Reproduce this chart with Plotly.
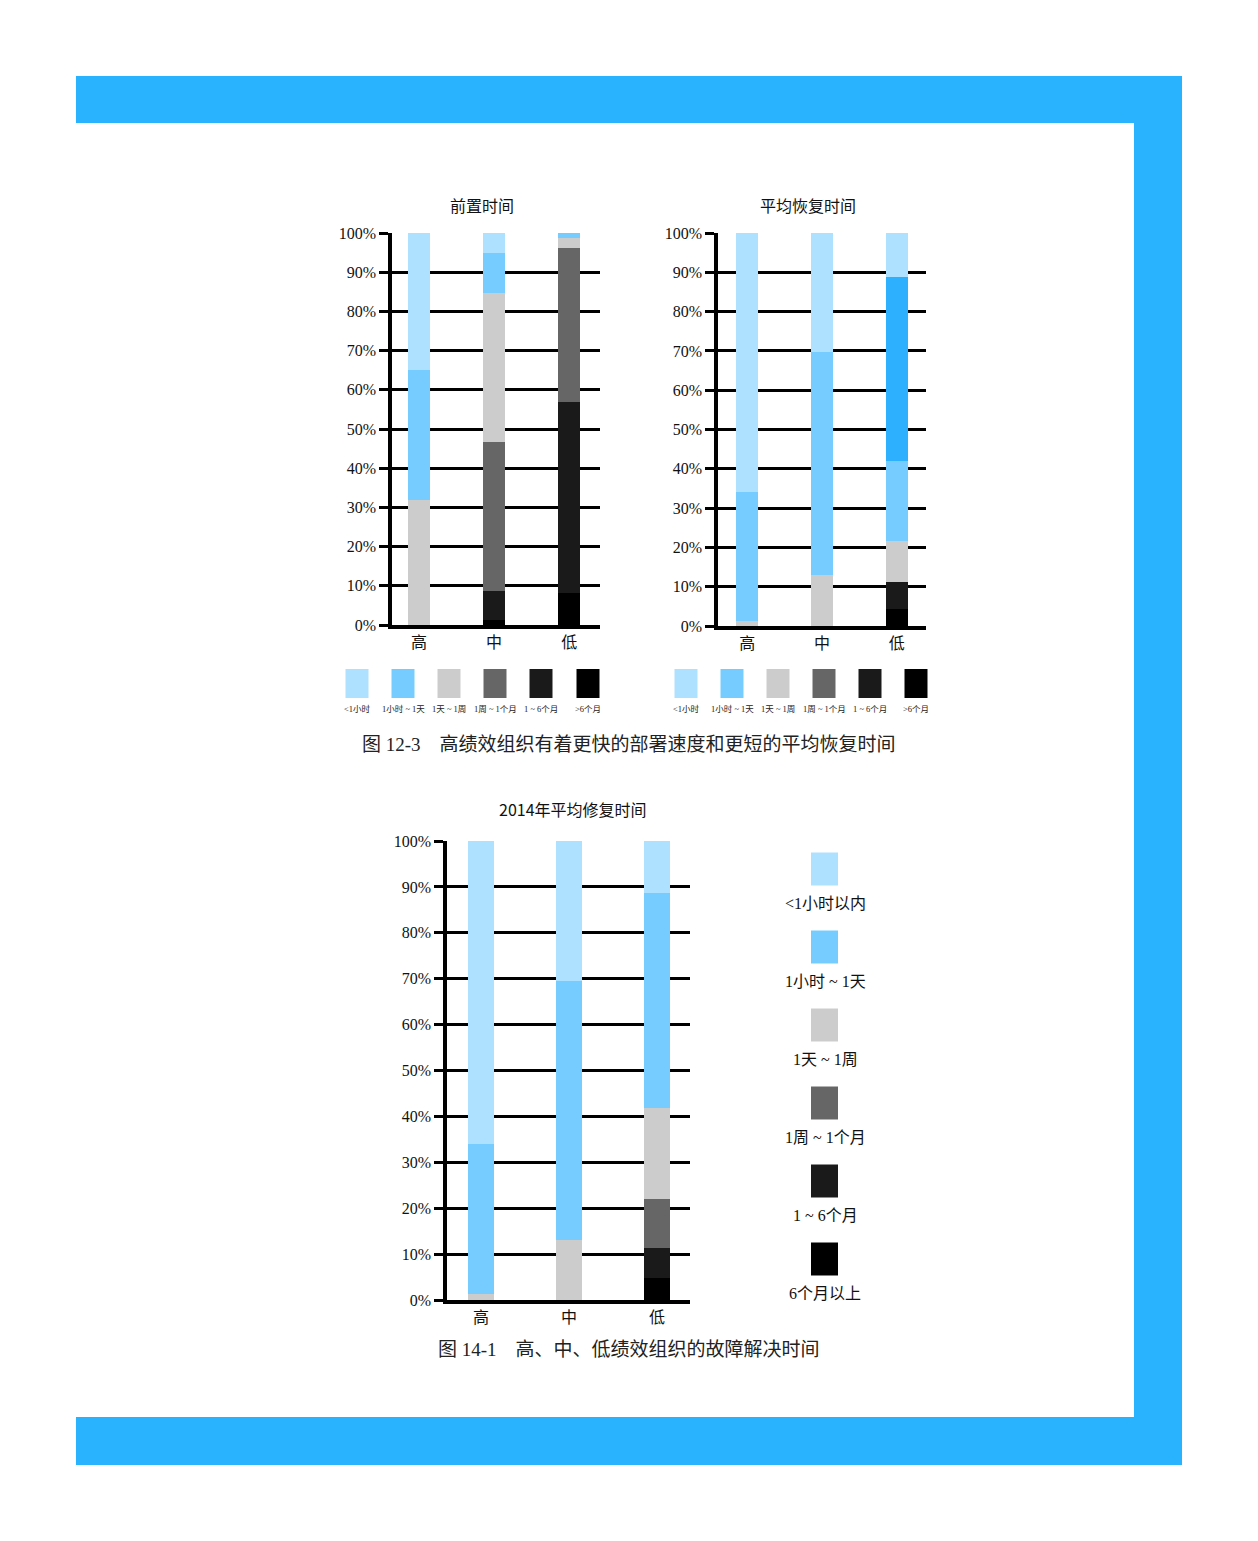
import plotly.graph_objects as go

# categorias e séries (de baixo para cima na pilha)
grupos = ["高", "中", "低"]
series = ["6个月以上", "1~6个月", "1周~1个月", "1天~1周", "1小时~1天", "<1小时以内"]

# 前置时间 (%)
lead_6m_plus = [0.0, 1.4, 8.1]
lead_1_6m = [0.0, 7.3, 48.8]
lead_1w_1m = [0.0, 37.9, 39.4]
lead_1d_1w = [32.0, 38.2, 2.3]
lead_1h_1d = [33.0, 10.0, 1.4]
lead_lt_1h = [35.0, 5.2, 0.0]

# 平均恢复时间 (%)
mttr_6m_plus = [0.0, 0.0, 4.3]
mttr_1_6m = [0.0, 0.0, 6.8]
mttr_1w_1m = [0.0, 0.0, 10.6]
mttr_1d_1w = [1.4, 13.0, 20.4]
mttr_1h_1d = [32.6, 56.6, 46.8]
mttr_lt_1h = [66.0, 30.4, 11.1]

# 2014年平均修复时间 (%)
rep_6m_plus = [0.0, 0.0, 4.9]
rep_1_6m = [0.0, 0.0, 6.4]
rep_1w_1m = [0.0, 0.0, 10.6]
rep_1d_1w = [1.3, 13.0, 20.0]
rep_1h_1d = [32.6, 56.5, 46.8]
rep_lt_1h = [66.1, 30.5, 11.3]

legenda_pequena = ["<1小时", "1小时 ~ 1天", "1天 ~ 1周", "1周 ~ 1个月", "1 ~ 6个月", ">6个月"]
legenda_grande = ["<1小时以内", "1小时 ~ 1天", "1天 ~ 1周", "1周 ~ 1个月", "1 ~ 6个月", "6个月以上"]

titulos = ["前置时间", "平均恢复时间", "2014年平均修复时间"]
legenda_fig1 = "图 12-3　高绩效组织有着更快的部署速度和更短的平均恢复时间"
legenda_fig2 = "图 14-1　高、中、低绩效组织的故障解决时间"

cores = ["#000000", "#1a1a1a", "#666666", "#cccccc", "#77ccff", "#aee0ff"]
azul_forte = "#2db1ff"
azul_moldura = "#29b3ff"

# a página tem 8px de margem no body: a figura fica menor e deslocada
OFF = 8
W, H = 1258 - 2 * OFF, 1541 - 2 * OFF - 6
SERIF = "Liberation Serif, Noto Sans CJK SC"
SANS = "Noto Sans CJK SC"


def px(x):
    return (x - OFF) / W


def py(y):
    return 1 - (y - OFF) / H


dados = [
    [lead_6m_plus, lead_1_6m, lead_1w_1m, lead_1d_1w, lead_1h_1d, lead_lt_1h],
    [mttr_6m_plus, mttr_1_6m, mttr_1w_1m, mttr_1d_1w, mttr_1h_1d, mttr_lt_1h],
    [rep_6m_plus, rep_1_6m, rep_1w_1m, rep_1d_1w, rep_1h_1d, rep_lt_1h],
]

# no gráfico "平均恢复时间" a coluna 低 aparece com as cores deslocadas
cores_mttr_baixo = ["#000000", "#1a1a1a", "#cccccc", "#77ccff", azul_forte, "#aee0ff"]

fig = go.Figure()

for k, grafico in enumerate(dados):
    sufixo = "" if k == 0 else str(k + 1)
    largura = 0.29 if k < 2 else 0.3
    for i, valores in enumerate(grafico):
        cor = [cores[i]] * 3
        if k == 1:
            cor[2] = cores_mttr_baixo[i]
        fig.add_trace(go.Bar(
            x=grupos, y=valores, name=series[i], width=largura,
            marker=dict(color=cor, line=dict(width=0)),
            xaxis="x" + sufixo, yaxis="y" + sufixo, showlegend=False,
        ))

# geometria dos três painéis (pixels da referência)
paineis = [
    dict(x0=392, x1=600, y0=625, y1=233, faixa=[-0.36, 2.41]),
    dict(x0=718, x1=926, y0=626, y1=233, faixa=[-0.39, 2.39]),
    dict(x0=447, x1=690, y0=1300, y1=841, faixa=[-0.386, 2.375]),
]

layout = dict(
    width=W, height=H, margin=dict(l=0, r=0, t=0, b=0, autoexpand=False),
    paper_bgcolor="white", plot_bgcolor="rgba(0,0,0,0)",
    barmode="stack", bargap=0,
)

for k, p in enumerate(paineis):
    sufixo = "" if k == 0 else str(k + 1)
    fs = 16
    layout["xaxis" + sufixo] = dict(
        domain=[px(p["x0"]), px(p["x1"])], range=p["faixa"],
        anchor="y" + sufixo, showline=True, linecolor="black", linewidth=4,
        showgrid=False, zeroline=False, ticks="", fixedrange=True,
        tickfont=dict(family=SERIF, size=fs, color="#111"),
    )
    layout["yaxis" + sufixo] = dict(
        domain=[py(p["y0"]), py(p["y1"])], range=[0, 100],
        anchor="x" + sufixo, showline=True, linecolor="black", linewidth=3.5,
        showgrid=True, gridcolor="black", gridwidth=3, zeroline=False,
        ticks="outside", ticklen=9, tickwidth=3, tickcolor="black",
        dtick=10, ticksuffix="%", fixedrange=True,
        tickfont=dict(family=SERIF, size=fs, color="#111"),
    )

fig.update_layout(**layout)

shapes = []
anotacoes = []


def texto(t, cx, cy, familia, tamanho, cor="#111"):
    anotacoes.append(dict(text=t, x=px(cx), y=py(cy), xref="paper", yref="paper",
                          xanchor="center", yanchor="middle", showarrow=False,
                          font=dict(family=familia, size=tamanho, color=cor)))


# moldura azul
for x0, y0, x1, y1 in [(76, 76, 1182, 123), (1134, 76, 1182, 1465), (76, 1417, 1182, 1465)]:
    shapes.append(dict(type="rect", xref="paper", yref="paper",
                       x0=px(x0), x1=px(x1), y0=py(y1), y1=py(y0),
                       fillcolor=azul_moldura, line=dict(width=0), layer="below"))

# títulos
for t, (cx, cy) in zip(titulos, [(482, 205), (808, 205), (573, 809)]):
    texto(t, cx, cy, SANS, 16)

# legendas pequenas (linhas de quadrados)
cores_leg = cores[::-1]
for centros in ([357, 403, 449, 495, 541, 588], [686, 732, 778, 824, 870, 916]):
    for cx, cor, rotulo in zip(centros, cores_leg, legenda_pequena):
        shapes.append(dict(type="rect", xref="paper", yref="paper",
                           x0=px(cx - 11.5), x1=px(cx + 11.5), y0=py(698), y1=py(669),
                           fillcolor=cor, line=dict(width=0)))
        texto(rotulo, cx, 709, SERIF, 8.5, "#222")

# legenda vertical do gráfico de baixo
for j, (cor, rotulo) in enumerate(zip(cores_leg, legenda_grande)):
    cy = 869 + 78 * j
    shapes.append(dict(type="rect", xref="paper", yref="paper",
                       x0=px(811), x1=px(838), y0=py(cy + 16.5), y1=py(cy - 16.5),
                       fillcolor=cor, line=dict(width=0)))
    texto(rotulo, 825, cy + 34, SERIF, 16)

# legendas das figuras
texto(legenda_fig1, 629, 744, SERIF, 19, "#222")
texto(legenda_fig2, 629, 1349, SERIF, 19, "#222")

fig.update_layout(shapes=shapes, annotations=anotacoes)

fig.write_html("out.html")
